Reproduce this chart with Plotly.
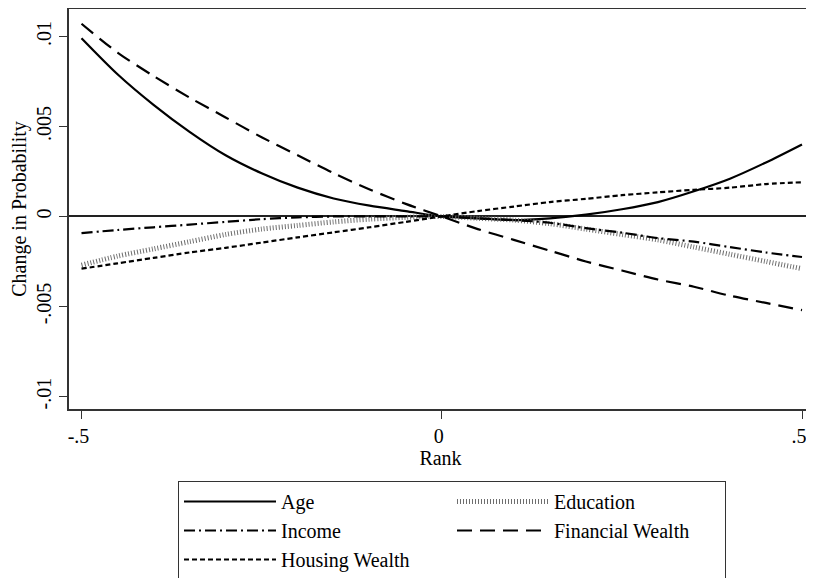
import plotly.graph_objects as go

rank = [-0.5, -0.45, -0.4, -0.35, -0.3, -0.25, -0.2, -0.15, -0.1, -0.05, 0.0,
        0.05, 0.1, 0.15, 0.2, 0.25, 0.3, 0.35, 0.4, 0.45, 0.5]

age = [0.0099, 0.0079, 0.0062, 0.0047, 0.0034, 0.0024, 0.0016, 0.0010, 0.0006, 0.0003, 0.0,
       -0.0001, -0.0002, -0.0001, 0.0001, 0.0004, 0.0008, 0.0014, 0.0021, 0.0030, 0.0040]
education = [-0.0027, -0.0022, -0.0018, -0.0014, -0.0010, -0.0007, -0.0005, -0.0003, -0.00015, -0.00005, 0.0,
             -0.0001, -0.0002, -0.0004, -0.0007, -0.0010, -0.0013, -0.0017, -0.0021, -0.0025, -0.0029]
income = [-0.00092, -0.00075, -0.0006, -0.00045, -0.0003, -0.00015, -0.00005, 0.0, 0.0, 0.0, 0.0,
          -0.0001, -0.0002, -0.00035, -0.00065, -0.0009, -0.0012, -0.0014, -0.0017, -0.0020, -0.00225]
financial_wealth = [0.0107, 0.0091, 0.0078, 0.0066, 0.0055, 0.0044, 0.0034, 0.0024, 0.0015, 0.0007, 0.0,
                    -0.0007, -0.0013, -0.0019, -0.0025, -0.0030, -0.0035, -0.0039, -0.0044, -0.0048, -0.0052]
housing_wealth = [-0.0029, -0.0026, -0.0023, -0.0020, -0.00174, -0.00145, -0.00116, -0.00088, -0.0006, -0.0003, 0.0,
                  0.0003, 0.00055, 0.0008, 0.00098, 0.00118, 0.00134, 0.00148, 0.0016, 0.0018, 0.0019]

x_tickvals = [-0.5, 0, 0.5]
x_ticktext = ["-.5", "0", ".5"]
y_tickvals = [-0.01, -0.005, 0, 0.005, 0.01]
y_ticktext = ["-.01", "-.005", "0", ".005", ".01"]

FONT = "Liberation Serif, Times New Roman, serif"

series = [
    ("Age", age, dict(color="black", width=2.2, dash="solid")),
    ("Education", education, dict(color="#6e6e6e", width=5, dash="1px,2px")),
    ("Income", income, dict(color="black", width=2.2, dash="11px,4px,2px,4px")),
    ("Financial Wealth", financial_wealth, dict(color="black", width=2.2, dash="15px,8px")),
    ("Housing Wealth", housing_wealth, dict(color="black", width=2.2, dash="5px,3px")),
]

fig = go.Figure()
for name, vals, line in series:
    fig.add_trace(go.Scatter(x=rank, y=vals, mode="lines", name=name,
                             line=dict(shape="spline", smoothing=0.8, **line)))

# page body has an 8px margin, so the figure is placed at (8, 8)
W, H = 806, 570
ML, MT, MB, MR = 61, 1, 169, 2
PW = W - ML - MR
PH = H - MT - MB

fig.update_layout(
    width=W, height=H,
    margin=dict(l=ML, r=MR, t=MT, b=MB, autoexpand=False),
    paper_bgcolor="white", plot_bgcolor="white",
    font=dict(family=FONT, size=20, color="black"),
    showlegend=True,
    legend=dict(
        orientation="h",
        x=(170 - ML) / PW, xanchor="left",
        y=(MT + PH - 473) / PH, yanchor="top",
        bordercolor="#333", borderwidth=1,
        entrywidth=166, entrywidthmode="pixels",
        itemwidth=92,
        font=dict(family=FONT, size=20, color="black"),
        traceorder="normal",
        tracegroupgap=0,
    ),
    xaxis=dict(
        range=[-0.51735, 0.51388],
        tickvals=x_tickvals, ticktext=x_ticktext,
        ticks="outside", ticklen=8, tickwidth=1.3, tickcolor="#333",
        showline=True, linecolor="#333", linewidth=1.5, mirror=True,
        showgrid=False, zeroline=False,
        ticklabelshift=-3,
        title=dict(text="Rank", standoff=2, font=dict(size=20)),
        tickfont=dict(size=20),
    ),
    yaxis=dict(
        range=[-0.01069, 0.01152],
        tickvals=y_tickvals, ticktext=y_ticktext,
        tickangle=-90,
        ticks="outside", ticklen=8, tickwidth=1.3, tickcolor="#333",
        showline=True, linecolor="#333", linewidth=1.5, mirror=False,
        showgrid=False, zeroline=True, zerolinecolor="#222", zerolinewidth=1.5,
        title=dict(text="Change in Probability", standoff=4, font=dict(size=20)),
        tickfont=dict(size=20),
    ),
)

fig.write_html("out.html")
